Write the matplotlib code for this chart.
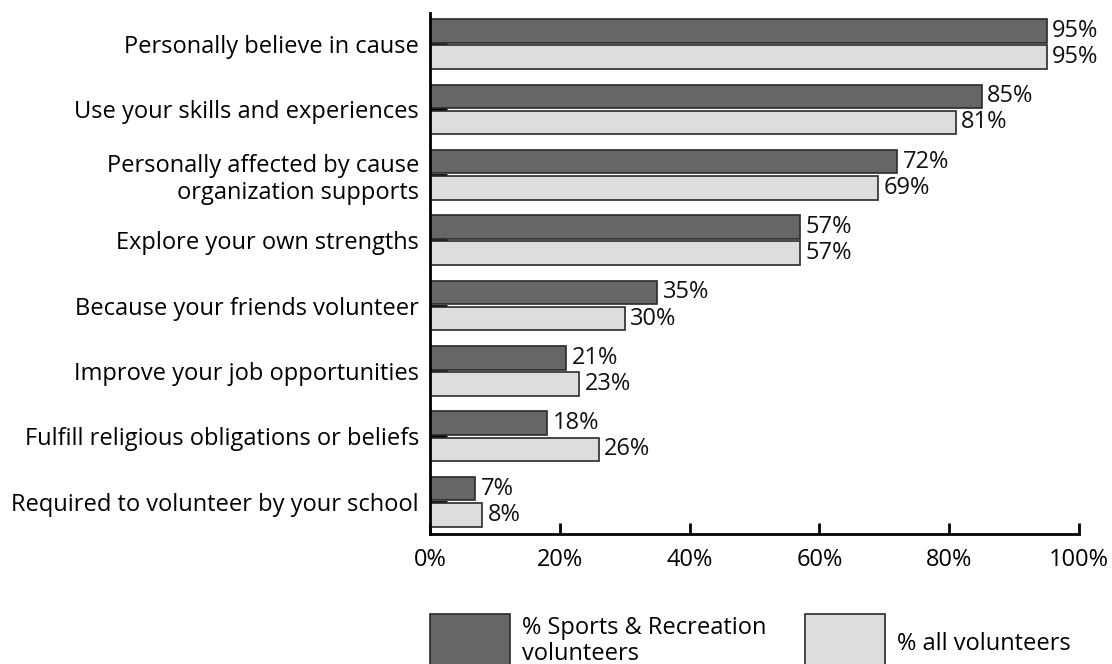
import numpy as np
import matplotlib
matplotlib.use("Agg")
import matplotlib.pyplot as plt

plt.rcParams['font.family'] = ['Open Sans', 'DejaVu Sans']

# data, top to bottom
reasons = [
    "Personally believe in cause",
    "Use your skills and experiences",
    "Personally affected by cause\norganization supports",
    "Explore your own strengths",
    "Because your friends volunteer",
    "Improve your job opportunities",
    "Fulfill religious obligations or beliefs",
    "Required to volunteer by your school",
]
sports_rec = [95, 85, 72, 57, 35, 21, 18, 7]
all_vol = [95, 81, 69, 57, 30, 23, 26, 8]
xticks = [0, 20, 40, 60, 80, 100]
series_names = ["% Sports & Recreation\nvolunteers", "% all volunteers"]

dark = '#666666'
light = '#dddddd'
edge = '#2a2a2a'
fs = 17

fig = plt.figure(figsize=(11.12, 6.64), dpi=100)
ax = fig.add_axes([0.3867, 0.1962, 0.5836, 0.7848])

y = np.arange(len(reasons))
h = 0.36
off = 0.20

b1 = ax.barh(y - off, sports_rec, height=h, color=dark, edgecolor=edge, linewidth=1.2,
             label=series_names[0], zorder=2)
b2 = ax.barh(y + off, all_vol, height=h, color=light, edgecolor=edge, linewidth=1.2,
             label=series_names[1], zorder=2)

for bars, vals in ((b1, sports_rec), (b2, all_vol)):
    for bar, v in zip(bars, vals):
        ax.annotate(f"{v}%", (bar.get_width(), bar.get_y() + bar.get_height() / 2),
                    xytext=(4, 0), textcoords='offset points',
                    ha='left', va='center', fontsize=fs, color='#111111')

ax.set_xlim(0, 100)
ax.set_ylim(len(reasons) - 0.51, -0.48)
ax.set_yticks(y)
ax.set_yticklabels(reasons, fontsize=fs)
ax.set_xticks(xticks)
ax.set_xticklabels([f"{t}%" for t in xticks], fontsize=fs)

for s in ('top', 'right'):
    ax.spines[s].set_visible(False)
for s in ('left', 'bottom'):
    ax.spines[s].set_linewidth(2)
    ax.spines[s].set_color('black')

ax.tick_params(axis='x', direction='in', length=8, width=2, pad=10, colors='black')
ax.tick_params(axis='y', direction='in', length=12, width=2, pad=8, colors='black')
for t in ax.get_yticklabels():
    t.set_multialignment('right')
for tl in ax.yaxis.get_ticklines():
    tl.set_zorder(3)

leg = fig.legend(loc='upper left', bbox_to_anchor=(430 / 1112, 1 - 614 / 664),
                 ncol=2, frameon=False, fontsize=fs, borderpad=0, borderaxespad=0,
                 handlelength=3.39, handleheight=3.4, handletextpad=0.5,
                 columnspacing=1.65)
for t in leg.get_texts():
    t.set_linespacing(1.1)

fig.savefig('out.png', dpi=100)
